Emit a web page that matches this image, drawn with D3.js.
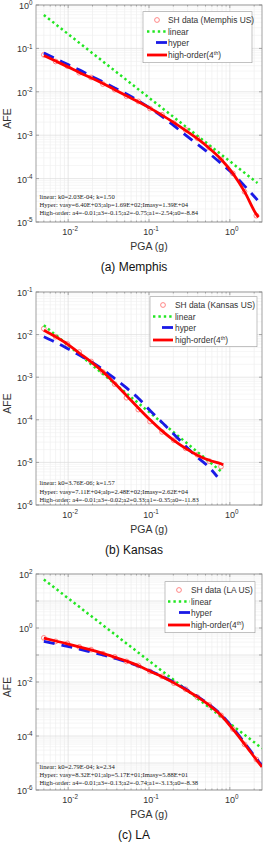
<!DOCTYPE html>
<html><head><meta charset="utf-8">
<script src="https://cdn.jsdelivr.net/npm/d3@7"></script>
<style>body{margin:0;background:#fff}svg{display:block}</style>
</head><body>
<svg id="c" width="269" height="842"></svg>
<script>
// ---------- data ----------
const pga = [0.005,0.007,0.0098,0.0137,0.0192,0.0269,0.0376,0.0527,0.0738,0.103,0.145,0.203,0.284,0.397,0.556,0.778,1.09,1.52,2.13];

// Memphis
const memphisSH    = [7.1e-2,5.0e-2,3.9e-2,2.75e-2,2.14e-2,1.51e-2,1.12e-2,7.9e-3,6.0e-3,4.1e-3,2.95e-3,1.9e-3,1.32e-3,8.5e-4,5.2e-4,2.75e-4,1.32e-4,5.0e-5,1.4e-5];
const memphisLinPGA = [0.005, 2.2];
const memphisLin    = [0.59, 7.9e-5];
const memphisHypPGA = [0.005,0.007,0.0098,0.0137,0.0192,0.0269,0.0376,0.0527,0.0738,0.103,0.145,0.203,0.284,0.397,0.556,0.778,1.09,1.52,2.2];
const memphisHyp    = [7.8e-2,5.8e-2,4.3e-2,3.2e-2,2.3e-2,1.7e-2,1.23e-2,8.9e-3,6.2e-3,4.2e-3,2.7e-3,1.66e-3,1.0e-3,6.2e-4,3.8e-4,2.24e-4,1.29e-4,6.8e-5,3.2e-5];
const memphisHighPGA = [0.005,0.007,0.0098,0.0137,0.0192,0.0269,0.0376,0.0527,0.0738,0.103,0.145,0.203,0.284,0.397,0.556,0.778,1.09,1.52,2.13,2.26];
const memphisHigh    = [6.9e-2,5.1e-2,3.8e-2,2.8e-2,2.1e-2,1.55e-2,1.12e-2,8.1e-3,5.9e-3,4.2e-3,2.9e-3,1.95e-3,1.29e-3,8.3e-4,5.0e-4,2.8e-4,1.32e-4,5.0e-5,1.5e-5,1.3e-5];

// Kansas
const kansasSH     = [1.38e-2,8.9e-3,6.0e-3,3.9e-3,2.34e-3,1.32e-3,6.9e-4,3.3e-4,1.74e-4,9.1e-5,5.2e-5,3.3e-5,2.14e-5,1.51e-5,1.07e-5,8.0e-6];
const kansasLinPGA = [0.005, 0.8];
const kansasLin    = [1.66e-2, 5.9e-6];
const kansasHypPGA = [0.005,0.007,0.0098,0.0137,0.0192,0.0269,0.0376,0.0527,0.0738,0.103,0.145,0.203,0.284,0.397,0.556,0.7];
const kansasHyp    = [8.9e-3,6.6e-3,4.7e-3,3.3e-3,2.3e-3,1.51e-3,9.3e-4,5.6e-4,3.2e-4,1.66e-4,8.7e-5,4.6e-5,2.4e-5,1.32e-5,7.6e-6,4.6e-6];
const kansasHighPGA = [0.005,0.007,0.0098,0.0137,0.0192,0.0269,0.0376,0.0527,0.0738,0.103,0.145,0.203,0.284,0.397,0.556,0.778,0.83];
const kansasHigh    = [1.26e-2,8.9e-3,6.0e-3,3.7e-3,2.3e-3,1.35e-3,7.2e-4,3.7e-4,1.9e-4,1.0e-4,5.5e-5,3.3e-5,2.14e-5,1.48e-5,1.12e-5,9.3e-6,8.8e-6];

// LA
const laSH     = [0.43,0.32,0.27,0.20,0.158,0.112,0.085,0.058,0.041,0.0245,0.0162,9.1e-3,5.4e-3,2.75e-3,1.41e-3,5.8e-4,1.82e-4,4.9e-5,1.35e-5];
const laLinPGA = [0.005, 2.5];
const laLin    = [63, 3.5e-5];
const laHypPGA = [0.005,0.007,0.0098,0.0137,0.0192,0.0269,0.0376,0.0527,0.0738,0.103,0.145,0.203,0.284,0.397,0.556,0.778,1.09,1.52,2.13,2.5];
const laHyp    = [0.32,0.26,0.21,0.166,0.129,0.10,0.076,0.056,0.039,0.026,0.0162,9.8e-3,5.5e-3,2.95e-3,1.45e-3,6.3e-4,2.0e-4,5.6e-5,1.45e-5,7.9e-6];
const laHighPGA = [0.005,0.007,0.0098,0.0137,0.0192,0.0269,0.0376,0.0527,0.0738,0.103,0.145,0.203,0.284,0.397,0.556,0.778,1.09,1.52,2.13,2.5];
const laHigh    = [0.42,0.33,0.26,0.20,0.155,0.115,0.083,0.059,0.040,0.025,0.0158,9.3e-3,5.2e-3,2.8e-3,1.38e-3,5.9e-4,1.78e-4,5.0e-5,1.32e-5,7.1e-6];

const xTicks = [0.01, 0.1, 1];
const xTickExp = ["-2", "-1", "0"];
const legendLabels = ["SH data", "linear", "hyper", "high-order"];

const memphisNotes = ["linear: k0=2.03E-04;  k=1.50",
  "Hyper: vasy=6.40E+03;alp=1.69E+02;Imasy=1.39E+04",
  "High-order: a4=-0.01;a3=-0.15;a2=-0.75;a1=-2.54;a0=-8.84"];
const kansasNotes = ["linear: k0=3.76E-06;  k=1.57",
  "Hyper: vasy=7.11E+04;alp=2.48E+02;Imasy=2.62E+04",
  "High-order: a4=-0.01;a3=-0.02;a2=0.33;a1=-0.35;a0=-11.83"];
const laNotes = ["linear: k0=2.79E-04;  k=2.34",
  "Hyper: vasy=8.32E+01;alp=5.17E+01;Imasy=5.88E+01",
  "High-order: a4=-0.01;a3=-0.13;a2=-0.74;a1=-3.13;a0=-8.38"];

// ---------- layout ----------
const svg = d3.select("#c");
const L = 36, R = 262;
const xDomain = [0.004, 2.5];
const panels = [
  {top:5, bottom:222, yExp:[-5,0], step:1, caption:"(a) Memphis", site:"Memphis US",
   sh:memphisSH, lin:[memphisLinPGA,memphisLin], hyp:[memphisHypPGA,memphisHyp], high:[memphisHighPGA,memphisHigh],
   notes:memphisNotes, noteY:[199,207,215], legend:{x:143,y:11.7,w:109,h:51,lx:147,lw:20,tx:168}},
  {top:292, bottom:505, yExp:[-6,-1], step:1, caption:"(b) Kansas", site:"Kansas US",
   sh:kansasSH, lin:[kansasLinPGA,kansasLin], hyp:[kansasHypPGA,kansasHyp], high:[kansasHighPGA,kansasHigh],
   notes:kansasNotes, noteY:[485,493.5,501.5], legend:{x:150,y:296.7,w:107,h:50,lx:153,lw:20,tx:175}},
  {top:574, bottom:790, yExp:[-6,2], step:2, caption:"(c) LA", site:"LA US",
   sh:laSH, lin:[laLinPGA,laLin], hyp:[laHypPGA,laHyp], high:[laHighPGA,laHigh],
   notes:laNotes, noteY:[769,777,785], legend:{x:165,y:581.7,w:90,h:51,lx:168,lw:22,tx:191}}
];

const GREEN = "#22e622", BLUE = "#1a1ae6", RED = "#ff0000", CIRC = "#ff6a6a";
const TXT = "#333";

panels.forEach((p, i) => {
  const x = d3.scaleLog().domain(xDomain).range([L, R]);
  const y = d3.scaleLog().domain([Math.pow(10,p.yExp[0]), Math.pow(10,p.yExp[1])]).range([p.bottom, p.top]);
  const g = svg.append("g");
  const cid = "clip"+i;
  svg.append("clipPath").attr("id", cid).append("rect")
    .attr("x", L).attr("y", p.top).attr("width", R-L).attr("height", p.bottom-p.top);

  // minor grid
  const xMinor = [], yMinor = [];
  for (let e = -3; e <= 0; e++) for (let m = 2; m <= 9; m++) {
    const v = m*Math.pow(10,e); if (v > xDomain[0] && v < xDomain[1]) xMinor.push(v);
  }
  for (let e = p.yExp[0]; e < p.yExp[1]; e++) for (let m = 2; m <= 9; m++) yMinor.push(m*Math.pow(10,e));
  const yMajor = d3.range(p.yExp[0], p.yExp[1]+1).map(e => Math.pow(10,e));
  const yLabelled = d3.range(p.yExp[0], p.yExp[1]+1, p.step);
  g.selectAll(".xm").data(xMinor).join("line").attr("x1", d=>x(d)).attr("x2", d=>x(d))
    .attr("y1", p.top).attr("y2", p.bottom).attr("stroke", "#ebebeb").attr("stroke-width", 0.6);
  g.selectAll(".ym").data(yMinor).join("line").attr("y1", d=>y(d)).attr("y2", d=>y(d))
    .attr("x1", L).attr("x2", R).attr("stroke", "#f0f0f0").attr("stroke-width", 0.6);
  g.selectAll(".xg").data(xTicks).join("line").attr("x1", d=>x(d)).attr("x2", d=>x(d))
    .attr("y1", p.top).attr("y2", p.bottom).attr("stroke", "#dcdcdc").attr("stroke-width", 0.7);
  g.selectAll(".yg").data(yMajor).join("line").attr("y1", d=>y(d)).attr("y2", d=>y(d))
    .attr("x1", L).attr("x2", R).attr("stroke", "#dcdcdc").attr("stroke-width", 0.7);

  // ticks (inside, all sides)
  const tk = g.append("g").attr("stroke", "#777").attr("stroke-width", 0.6);
  xTicks.forEach(v => { tk.append("line").attr("x1",x(v)).attr("x2",x(v)).attr("y1",p.bottom).attr("y2",p.bottom-3);
                        tk.append("line").attr("x1",x(v)).attr("x2",x(v)).attr("y1",p.top).attr("y2",p.top+3); });
  xMinor.forEach(v => { tk.append("line").attr("x1",x(v)).attr("x2",x(v)).attr("y1",p.bottom).attr("y2",p.bottom-1.5);
                        tk.append("line").attr("x1",x(v)).attr("x2",x(v)).attr("y1",p.top).attr("y2",p.top+1.5); });
  yMajor.forEach(v => { tk.append("line").attr("y1",y(v)).attr("y2",y(v)).attr("x1",L).attr("x2",L+3);
                        tk.append("line").attr("y1",y(v)).attr("y2",y(v)).attr("x1",R).attr("x2",R-3); });

  // box
  g.append("rect").attr("x", L).attr("y", p.top).attr("width", R-L).attr("height", p.bottom-p.top)
    .attr("fill", "none").attr("stroke", "#8a8a8a").attr("stroke-width", 0.8);

  // tick labels
  const ff = "'Liberation Sans', Arial, sans-serif";
  yLabelled.forEach(e => {
    const t = g.append("text").attr("x", 32.5).attr("y", y(Math.pow(10,e))+4)
      .attr("text-anchor","end").attr("font-family",ff).attr("font-size",9).attr("fill",TXT);
    t.append("tspan").text("10");
    t.append("tspan").attr("dy",-3.6).attr("font-size",6.3).text(String(e));
  });
  xTicks.forEach((v, k) => {
    const t = g.append("text").attr("x", x(v)+2).attr("y", p.bottom+13)
      .attr("text-anchor","middle").attr("font-family",ff).attr("font-size",9).attr("fill",TXT);
    t.append("tspan").text("10");
    t.append("tspan").attr("dy",-4).attr("font-size",6.3).text(xTickExp[k]);
  });
  g.append("text").attr("x", 149).attr("y", p.bottom+28).attr("text-anchor","middle")
    .attr("font-family",ff).attr("font-size",10.5).attr("fill",TXT).text("PGA (g)");
  const midY = (p.top+p.bottom)/2 + 5;
  g.append("text").attr("transform", `translate(11,${midY}) rotate(-90)`).attr("text-anchor","middle")
    .attr("font-family",ff).attr("font-size",10.5).attr("fill",TXT).text("AFE");
  g.append("text").attr("x", 134).attr("y", p.bottom+49).attr("text-anchor","middle")
    .attr("font-family",ff).attr("font-size",12).attr("fill","#111").text(p.caption);

  // curves
  const cg = g.append("g").attr("clip-path", `url(#${cid})`);
  const line = d3.line().x(d=>x(d[0])).y(d=>y(d[1])).curve(d3.curveMonotoneX);
  cg.selectAll(".sh").data(pga.slice(0, p.sh.length).map((v,k)=>[v,p.sh[k]])).join("circle")
    .attr("cx", d=>x(d[0])).attr("cy", d=>y(d[1])).attr("r", 2.4)
    .attr("fill","none").attr("stroke", CIRC).attr("stroke-width", 0.8);
  cg.append("path").attr("d", line(p.lin[0].map((v,k)=>[v,p.lin[1][k]])))
    .attr("fill","none").attr("stroke",GREEN).attr("stroke-width",2.5).attr("stroke-dasharray","2.4,3");
  cg.append("path").attr("d", line(p.hyp[0].map((v,k)=>[v,p.hyp[1][k]])))
    .attr("fill","none").attr("stroke",BLUE).attr("stroke-width",2.8).attr("stroke-dasharray","11,7");
  cg.append("path").attr("d", line(p.high[0].map((v,k)=>[v,p.high[1][k]])))
    .attr("fill","none").attr("stroke",RED).attr("stroke-width",2.8);

  // notes
  p.notes.forEach((s, k) => {
    g.append("text").attr("x", 39.5).attr("y", p.noteY[k]).attr("font-family","'Liberation Serif','Times New Roman',serif")
      .attr("font-size", 6.6).attr("fill","#222").text(s);
  });

  // legend
  const lg = p.legend;
  const leg = g.append("g");
  leg.append("rect").attr("x", lg.x).attr("y", lg.y).attr("width", lg.w).attr("height", lg.h)
    .attr("fill","#fff").attr("stroke","#999").attr("stroke-width",0.6);
  const rows = [8.3, 19.8, 30.8, 43.3].map(d => lg.y + d);
  const lf = 8.4;
  leg.append("circle").attr("cx", lg.lx + lg.lw/2).attr("cy", rows[0]).attr("r", 2.4)
    .attr("fill","none").attr("stroke",CIRC).attr("stroke-width",0.8);
  leg.append("line").attr("x1", lg.lx).attr("x2", lg.lx+lg.lw).attr("y1", rows[1]).attr("y2", rows[1])
    .attr("stroke",GREEN).attr("stroke-width",2.5).attr("stroke-dasharray","2.4,3");
  leg.append("line").attr("x1", lg.lx+lg.lw-11).attr("x2", lg.lx+lg.lw).attr("y1", rows[2]).attr("y2", rows[2])
    .attr("stroke",BLUE).attr("stroke-width",2.8);
  leg.append("line").attr("x1", lg.lx).attr("x2", lg.lx+lg.lw).attr("y1", rows[3]).attr("y2", rows[3])
    .attr("stroke",RED).attr("stroke-width",2.8);
  const labels = [`${legendLabels[0]} (${p.site})`, legendLabels[1], legendLabels[2]];
  labels.forEach((s,k) => {
    leg.append("text").attr("x", lg.tx).attr("y", rows[k]+3).attr("font-family",ff)
      .attr("font-size",lf).attr("fill",TXT).text(s);
  });
  const ht = leg.append("text").attr("x", lg.tx).attr("y", rows[3]+3).attr("font-family",ff)
    .attr("font-size",lf).attr("fill",TXT);
  ht.append("tspan").text(legendLabels[3] + "(4");
  ht.append("tspan").attr("dy",-3.5).attr("font-size",5.5).text("th");
  ht.append("tspan").attr("dy",3.5).text(")");
});
</script>
</body></html>
